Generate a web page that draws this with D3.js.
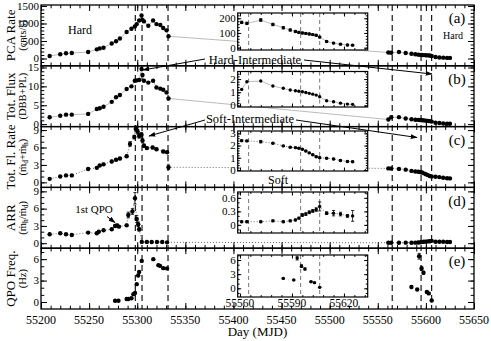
<!DOCTYPE html>
<html>
<head>
<meta charset="utf-8">
<script src="https://cdn.jsdelivr.net/npm/d3@7"></script>
<style>
  body { margin: 0; background: #fff; }
  svg { display: block; }
  text { font-family: "Liberation Serif", "Times New Roman", serif; fill: #000; }
</style>
</head>
<body>
<div id="chart"></div>
<script>
// ---- Data ----
// first outburst, days for PCA rate and total flux
const leftDays = [55209, 55220, 55226, 55232, 55249, 55258, 55261, 55265, 55273.5, 55278, 55282, 55289, 55294, 55297.5, 55299.5, 55302, 55304.5, 55305.5, 55307, 55311.5, 55316.5, 55320, 55324, 55327, 55330.5, 55332.5];
const rateLeft = [73, 121, 149, 157, 185, 261, 289, 309, 430, 494, 570, 759, 851, 916, 983, 1085, 1230, 1104, 1060, 936, 1085, 983, 955, 871, 804, 635];
const fluxLeft = [1.8, 2.2, 2.5, 2.5, 2.7, 4.0, 4.2, 4.6, 5.9, 7.1, 7.7, 9.3, 10.0, 11.5, 11.6, 11.7, 14.6, 13.0, 11.5, 11.0, 11.5, 9.7, 9.4, 9.1, 8.4, 6.8];

const flrDays = [55209, 55220, 55226, 55232, 55249, 55258, 55261, 55265, 55273.5, 55278, 55282, 55289, 55292.5, 55297, 55298.5, 55300.5, 55302, 55304.5, 55305.5, 55307, 55310, 55316, 55320, 55327, 55331, 55332.5];
const flrLeft = [0.6, 1.0, 1.2, 1.2, 2.3, 2.5, 2.9, 3.1, 3.6, 3.9, 4.1, 4.5, 6.6, 7.8, 9.2, 8.7, 8.0, 8.2, 7.2, 6.3, 5.9, 6.0, 5.7, 5.3, 5.2, 2.6];
const flrLeftErr = [0.1, 0.1, 0.1, 0.1, 0.1, 0.1, 0.1, 0.2, 0.2, 0.2, 0.2, 0.2, 0.4, 0.3, 0.5, 0.4, 0.4, 0.4, 0.4, 0.3, 0.2, 0.2, 0.2, 0.2, 0.2, 0.4];

const arrDays = [55209, 55220, 55226, 55232, 55249, 55258, 55260, 55265, 55273.5, 55277, 55279, 55281, 55289, 55290.7, 55295, 55297.7, 55299.5, 55301, 55302, 55304.7, 55310, 55315, 55320.5, 55326, 55331];
const arrLeft = [1.55, 1.72, 1.55, 1.43, 1.84, 1.72, 2.0, 2.24, 2.41, 2.98, 3.1, 2.88, 3.1, 4.9, 5.5, 7.8, 4.2, 3.3, 2.4, 0.22, 0.22, 0.2, 0.2, 0.2, 0.15];
const arrLeftErr = [0.1, 0.1, 0.1, 0.1, 0.1, 0.1, 0.1, 0.1, 0.1, 0.2, 0.2, 0.2, 0.2, 0.5, 0.5, 1.0, 0.6, 0.4, 0.3, 0.05, 0.05, 0.05, 0.05, 0.05, 0.05];

const qpoDays = [55277, 55280.5, 55289, 55290.7, 55294, 55296, 55297.7, 55299.5, 55301, 55302, 55304.7, 55316.7, 55322, 55323.7, 55327, 55331];
const qpoLeft = [0.18, 0.18, 0.42, 0.42, 0.52, 1.1, 1.25, 2.5, 3.7, 4.2, 5.75, 6.0, 5.16, 5.06, 4.74, 4.7];

// second outburst (also shown in the insets)
const rightDays = [55561, 55564, 55572, 55579, 55585, 55589, 55592, 55594, 55596, 55598, 55600, 55602, 55604, 55606, 55610, 55614, 55618, 55622, 55625];
const rateRight = [172, 165, 188, 158, 136, 120, 110, 104, 100, 97, 93, 89, 84, 72, 42, 31, 24, 18, 17];
const rateRightErr = [8, 8, 9, 8, 8, 7, 7, 7, 6, 6, 6, 6, 6, 6, 5, 5, 5, 5, 5];
const fluxRight = [1.22, 1.80, 1.85, 1.47, 1.30, 1.17, 1.12, 1.08, 1.04, 0.98, 0.92, 0.86, 0.79, 0.66, 0.36, 0.29, 0.18, 0.11, 0.09];
const flrRight = [2.40, 2.38, 2.32, 2.19, 1.97, 1.86, 1.83, 1.78, 1.70, 1.55, 1.40, 1.25, 1.09, 1.01, 0.96, 0.90, 0.78, 0.70, 0.68];
const flrRightErr = [0.08, 0.06, 0.1, 0.05, 0.05, 0.05, 0.05, 0.05, 0.05, 0.05, 0.05, 0.05, 0.05, 0.06, 0.05, 0.06, 0.05, 0.06, 0.06];
const arrRight = [0.07, 0.07, 0.07, 0.09, 0.07, 0.09, 0.11, 0.15, 0.22, 0.24, 0.28, 0.31, 0.34, 0.41, 0.26, 0.26, 0.24, 0.20, 0.20];
const arrRightErr = [0.02, 0.02, 0.02, 0.02, 0.02, 0.02, 0.02, 0.02, 0.03, 0.03, 0.03, 0.03, 0.04, 0.1, 0.03, 0.06, 0.04, 0.03, 0.12];
const qpoRightDays = [55585, 55591, 55593, 55595.5, 55597.5, 55601, 55603, 55606];
const qpoRight = [2.1, 1.75, 6.4, 4.7, 4.1, 1.4, 1.2, 0.2];
const qpoRightErr = [0.1, 0.1, 0.4, 0.3, 0.2, 0.1, 0.1, 0.1];

const transitions = [55298, 55305, 55332, 55565, 55595, 55606];
const xTicks = d3.range(55200, 55651, 50);
const insetXTicks = [55560, 55590, 55620];

// ---- Layout ----
const width = 491, height = 341;
const plot = { left: 41, right: 474, top: 5, panelH: 60.8 };
const inset = { left: 237.7, right: 367.7 };

const svg = d3.select('#chart').append('svg')
  .attr('width', width)
  .attr('height', height);

const defs = svg.append('defs');
defs.append('marker')
  .attr('id', 'arrow')
  .attr('viewBox', '0 0 10 10')
  .attr('refX', 9).attr('refY', 5)
  .attr('markerWidth', 7).attr('markerHeight', 7)
  .attr('orient', 'auto')
  .append('path')
  .attr('d', 'M0,1.5L10,5L0,8.5z')
  .attr('fill', '#000');

const x = d3.scaleLinear().domain([55200, 55650]).range([plot.left, plot.right]);
const xIn = d3.scaleLinear().domain([55558.7, 55633.7]).range([inset.left, inset.right]);

const zip = (days, vals, errs) => days.map((d, i) => ({ day: d, val: vals[i], err: errs ? errs[i] : 0 }));

const panels = [
  {
    tag: '(a)', label: [['PCA Rate'], ['(cnts/s)']],
    domain: [-208, 1528], ticks: [0, 500, 1000, 1500], minor: 100,
    left: zip(leftDays, rateLeft), right: zip(rightDays, rateRight, rateRightErr),
    line: 'solid',
    inset: { y0: 13, y1: 50, domain: [-16, 236], ticks: [0, 100, 200], minor: 20 }
  },
  {
    tag: '(b)', label: [['Tot. Flux'], ['(DBB+PL)']],
    domain: [-0.66, 15.45], ticks: [0, 5, 10, 15], minor: 1,
    left: zip(leftDays, fluxLeft), right: zip(rightDays, fluxRight),
    line: 'solid',
    inset: { y0: 71.5, y1: 107, domain: [-0.11, 2.57], ticks: [0, 1, 2], minor: 0.2 }
  },
  {
    tag: '(c)', label: [['Tot. Fl. Rate'], ['(ṁ', 'd', '+ṁ', 'h', ')']],
    domain: [-0.87, 9.6], ticks: [0, 3, 6, 9], minor: 1,
    left: zip(flrDays, flrLeft, flrLeftErr), right: zip(rightDays, flrRight, flrRightErr),
    line: 'dotted',
    inset: { y0: 131, y1: 171, domain: [-0.08, 3.19], ticks: [0, 1, 2, 3], minor: 0.2 }
  },
  {
    tag: '(d)', label: [['ARR'], ['(ṁ', 'h', '/ṁ', 'd', ')']],
    domain: [-0.87, 9.69], ticks: [0, 3, 6, 9], minor: 1,
    left: zip(arrDays, arrLeft, arrLeftErr), right: zip(rightDays, arrRight, arrRightErr),
    line: 'dotted',
    inset: { y0: 192, y1: 233, domain: [-0.18, 0.73], ticks: [0, 0.3, 0.6], minor: 0.1 }
  },
  {
    tag: '(e)', label: [['QPO Freq.'], ['(Hz)']],
    domain: [-0.98, 7.53], ticks: [0, 3, 6], minor: 1,
    left: zip(qpoDays, qpoLeft), right: zip(qpoRightDays, qpoRight, qpoRightErr),
    line: 'none',
    inset: { y0: 255, y1: 297, domain: [-1.84, 7.06], ticks: [0, 3, 6], minor: 1 }
  }
];

const lineStyle = (sel, kind) => {
  if (kind === 'solid') sel.attr('stroke', '#aaa').attr('stroke-width', 0.8);
  else if (kind === 'dotted') sel.attr('stroke', '#444').attr('stroke-width', 0.8).attr('stroke-dasharray', '1,2');
  else sel.attr('stroke', 'none');
};

const drawPoints = (g, data, xs, ys, r) => {
  const withErr = data.filter(d => d.err > 0);
  g.append('g').selectAll('path')
    .data(withErr)
    .join('path')
    .attr('d', d => {
      const cx = xs(d.day), y1 = ys(d.val - d.err), y2 = ys(d.val + d.err);
      return `M${cx},${y1}V${y2}M${cx - 1.6},${y1}H${cx + 1.6}M${cx - 1.6},${y2}H${cx + 1.6}`;
    })
    .attr('stroke', '#000')
    .attr('stroke-width', 0.8)
    .attr('fill', 'none');
  g.append('g').selectAll('circle')
    .data(data)
    .join('circle')
    .attr('cx', d => xs(d.day))
    .attr('cy', d => ys(d.val))
    .attr('r', r)
    .attr('fill', '#000');
};

// frame with inward ticks on all four sides
const drawFrame = (g, xs, ys, xMajor, xMinor, yMajor, yMinor, x0, x1, y0, y1, tl, opts) => {
  const add = (axis, tx, ty) => g.append('g')
    .attr('transform', `translate(${tx},${ty})`)
    .call(axis)
    .call(a => a.select('.domain').remove())
    .call(a => a.selectAll('line').attr('stroke', '#000').attr('stroke-width', 1));

  [[xMajor, tl], [xMinor, tl * 0.55]].forEach(([vals, len]) => {
    add(d3.axisBottom(xs).tickValues(vals).tickSize(-len).tickFormat(''), 0, y1);
    add(d3.axisTop(xs).tickValues(vals).tickSize(-len).tickFormat(''), 0, y0);
  });
  [[yMajor, tl], [yMinor, tl * 0.55]].forEach(([vals, len]) => {
    add(d3.axisLeft(ys).tickValues(vals).tickSize(-len).tickFormat(''), x0, 0);
    add(d3.axisRight(ys).tickValues(vals).tickSize(-len).tickFormat(''), x1, 0);
  });

  g.append('g').selectAll('text')
    .data(yMajor)
    .join('text')
    .attr('x', x0 - 2)
    .attr('y', d => ys(d))
    .attr('dy', '0.35em')
    .attr('text-anchor', 'end')
    .style('font-size', opts.fs + 'px')
    .text(d => d);

  g.append('rect')
    .attr('x', x0).attr('y', y0)
    .attr('width', x1 - x0).attr('height', y1 - y0)
    .attr('fill', 'none')
    .attr('stroke', '#000')
    .attr('stroke-width', opts.sw);
};

const minorVals = (lo, hi, step) => d3.range(Math.ceil(lo / step) * step, hi + 1e-9, step).map(v => +v.toFixed(4));

// ---- Dashed transition lines (full height) ----
const plotBottom = plot.top + plot.panelH * panels.length;
svg.append('g').selectAll('line')
  .data(transitions)
  .join('line')
  .attr('x1', d => x(d)).attr('x2', d => x(d))
  .attr('y1', plot.top).attr('y2', plotBottom)
  .attr('stroke', '#000')
  .attr('stroke-width', 1.1)
  .attr('stroke-dasharray', '6,4');

panels.forEach((p, i) => {
  const top = plot.top + i * plot.panelH;
  const bottom = top + plot.panelH;
  const y = d3.scaleLinear().domain(p.domain).range([bottom, top]);
  const g = svg.append('g');

  // connecting line across the whole series
  const all = p.left.concat(p.right);
  g.append('path')
    .attr('d', d3.line().x(d => x(d.day)).y(d => y(d.val))(all))
    .attr('fill', 'none')
    .call(lineStyle, p.line);

  drawPoints(g, all, x, y, 2.2);

  // inset
  const ins = p.inset;
  const yIn = d3.scaleLinear().domain(ins.domain).range([ins.y1, ins.y0]);
  const gi = svg.append('g');
  gi.append('rect')
    .attr('x', inset.left).attr('y', ins.y0)
    .attr('width', inset.right - inset.left).attr('height', ins.y1 - ins.y0)
    .attr('fill', '#fff');
  gi.append('g').selectAll('line')
    .data(transitions.filter(t => t > 55500))
    .join('line')
    .attr('x1', d => xIn(d)).attr('x2', d => xIn(d))
    .attr('y1', ins.y0).attr('y2', ins.y1)
    .attr('stroke', '#555')
    .attr('stroke-width', 0.8)
    .attr('stroke-dasharray', '4,3');
  gi.append('path')
    .attr('d', d3.line().x(d => xIn(d.day)).y(d => yIn(d.val))(p.right))
    .attr('fill', 'none')
    .call(lineStyle, p.line);
  drawPoints(gi, p.right, xIn, yIn, 1.7);
  drawFrame(gi, xIn, yIn, insetXTicks, minorVals(55560, 55633, 6).filter(v => v > 55558.7),
    ins.ticks, minorVals(ins.domain[0], ins.domain[1], ins.minor),
    inset.left, inset.right, ins.y0, ins.y1, 3.5, { fs: 11, sw: 1.2 });

  // main frame
  drawFrame(g, x, y, xTicks, minorVals(55200, 55650, 10),
    p.ticks, minorVals(p.domain[0], p.domain[1], p.minor),
    plot.left, plot.right, top, bottom, 6, { fs: 11, sw: 1.3 });

  // panel tag
  g.append('text')
    .attr('x', 457).attr('y', top + 13)
    .attr('dy', '0.35em')
    .attr('text-anchor', 'middle')
    .style('font-size', '15px')
    .text(p.tag);

  // y label (two lines)
  const cy = (top + bottom) / 2;
  p.label.forEach((parts, li) => {
    const t = g.append('text')
      .attr('transform', `translate(${li === 0 ? 15 : 26},${cy}) rotate(-90)`)
      .attr('text-anchor', 'middle')
      .style('font-size', li === 0 ? '13px' : '10.5px');
    parts.forEach((s, k) => {
      const sub = k % 2 === 1;
      t.append('tspan')
        .attr('baseline-shift', sub ? '-30%' : null)
        .style('font-size', sub ? '7.5px' : null)
        .text(s);
    });
  });
});

// x tick labels
svg.append('g').selectAll('text')
  .data(xTicks)
  .join('text')
  .attr('x', d => x(d))
  .attr('y', plotBottom + 11)
  .attr('dy', '0.35em')
  .attr('text-anchor', 'middle')
  .style('font-size', '12px')
  .text(d => d);

svg.append('g').selectAll('text')
  .data(insetXTicks)
  .join('text')
  .attr('x', d => xIn(d))
  .attr('y', 303)
  .attr('dy', '0.35em')
  .attr('text-anchor', 'middle')
  .style('font-size', '11.5px')
  .text(d => d);

svg.append('text')
  .attr('x', (plot.left + plot.right) / 2)
  .attr('y', 331)
  .attr('dy', '0.35em')
  .attr('text-anchor', 'middle')
  .style('font-size', '13px')
  .text('Day (MJD)');

// annotations
const note = (txt, tx, ty, fs) => svg.append('text')
  .attr('x', tx).attr('y', ty)
  .attr('dy', '0.35em')
  .attr('text-anchor', 'middle')
  .style('font-size', fs + 'px')
  .text(txt);

note('Hard', 80, 30, 12);
note('Hard', 453, 35, 10);
note('Soft', 278, 180, 12);
note('1st QPO', 94, 209, 11);
note('Hard-Intermediate', 255, 60, 12.5);
note('Soft-Intermediate', 250, 119, 12.5);

const arrows = [
  [205, 59, 143, 70],
  [304, 60, 432, 74],
  [205, 120, 149, 136],
  [296, 120, 417, 137.5],
  [107, 216.5, 115, 222.5]
];
svg.append('g').selectAll('line')
  .data(arrows)
  .join('line')
  .attr('x1', d => d[0]).attr('y1', d => d[1])
  .attr('x2', d => d[2]).attr('y2', d => d[3])
  .attr('stroke', '#000')
  .attr('stroke-width', 1)
  .attr('marker-end', 'url(#arrow)');
</script>
</body>
</html>
